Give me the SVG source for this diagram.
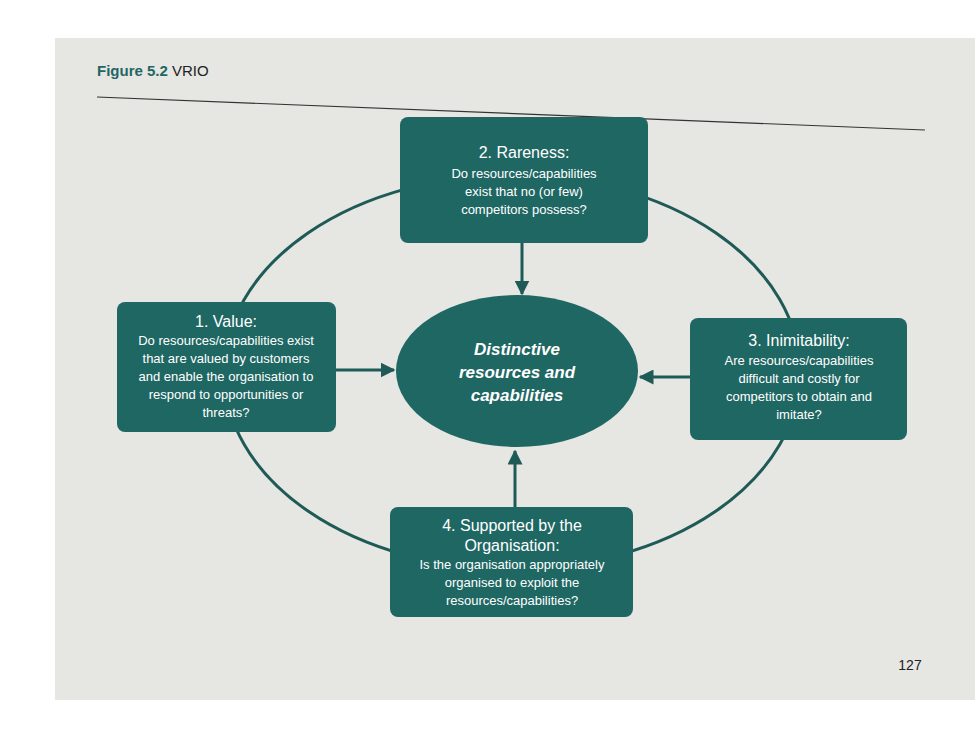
<svg xmlns="http://www.w3.org/2000/svg" width="975" height="740" viewBox="0 0 975 740">
<defs>
<style>
.box{fill:#1f6763;}
.t{font-family:"Liberation Sans",Arial,sans-serif;fill:#ffffff;text-anchor:middle;font-size:13px;}
.h{font-size:16px;}
.c{font-family:"Liberation Sans",Arial,sans-serif;fill:#ffffff;text-anchor:middle;font-size:17px;font-weight:bold;font-style:italic;}
.conn{stroke:#1e5a56;stroke-width:3;fill:none;}
</style>
<marker id="ah" viewBox="0 0 10 10" refX="9" refY="5" markerWidth="5" markerHeight="5" orient="auto"><path d="M0,0L10,5L0,10z" fill="#1e5a56"/></marker>
</defs>
<rect width="975" height="740" fill="#ffffff"/>
<rect x="55" y="38" width="920" height="662" fill="#e6e6e3"/>
<text x="97" y="76" font-family="Liberation Sans,Arial,sans-serif" font-size="15" fill="#1f6763"><tspan font-weight="bold">Figure 5.2</tspan><tspan fill="#222"> VRIO</tspan></text>
<line x1="97" y1="97" x2="925" y2="130" stroke="#333" stroke-width="1.2"/>
<text x="910" y="670" font-family="Liberation Sans,Arial,sans-serif" font-size="14" fill="#222" text-anchor="middle">127</text>
<g id="connectors">
<ellipse cx="512" cy="372" rx="288" ry="197" class="conn"/>
<line x1="522" y1="243" x2="522" y2="294" class="conn" marker-end="url(#ah)"/>
<line x1="336" y1="370" x2="394" y2="370" class="conn" marker-end="url(#ah)"/>
<line x1="690" y1="377" x2="640" y2="377" class="conn" marker-end="url(#ah)"/>
<line x1="515" y1="507" x2="515" y2="451" class="conn" marker-end="url(#ah)"/>
</g>
<g id="center">
<ellipse cx="517" cy="371" rx="121" ry="76" class="box"/>
<text class="c" x="517" y="355">Distinctive</text>
<text class="c" x="517" y="378">resources and</text>
<text class="c" x="517" y="401">capabilities</text>
</g>
<g id="rareness">
<rect x="400" y="117" width="248" height="126" rx="8" class="box"/>
<text class="t h" x="524" y="158">2. Rareness:</text>
<text class="t" x="524" y="178">Do resources/capabilities</text>
<text class="t" x="524" y="196">exist that no (or few)</text>
<text class="t" x="524" y="214">competitors possess?</text>
</g>
<g id="value">
<rect x="117" y="302" width="219" height="130" rx="8" class="box"/>
<text class="t h" x="226" y="327">1. Value:</text>
<text class="t" x="226" y="345">Do resources/capabilities exist</text>
<text class="t" x="226" y="363">that are valued by customers</text>
<text class="t" x="226" y="381">and enable the organisation to</text>
<text class="t" x="226" y="399">respond to opportunities or</text>
<text class="t" x="226" y="417">threats?</text>
</g>
<g id="inimitability">
<rect x="690" y="318" width="217" height="122" rx="8" class="box"/>
<text class="t h" x="799" y="346">3. Inimitability:</text>
<text class="t" x="799" y="365">Are resources/capabilities</text>
<text class="t" x="799" y="383">difficult and costly for</text>
<text class="t" x="799" y="401">competitors to obtain and</text>
<text class="t" x="799" y="419">imitate?</text>
</g>
<g id="organisation">
<rect x="390" y="507" width="243" height="110" rx="8" class="box"/>
<text class="t h" x="512" y="531">4. Supported by the</text>
<text class="t h" x="512" y="551">Organisation:</text>
<text class="t" x="512" y="569">Is the organisation appropriately</text>
<text class="t" x="512" y="587">organised to exploit the</text>
<text class="t" x="512" y="605">resources/capabilities?</text>
</g>
</svg>
